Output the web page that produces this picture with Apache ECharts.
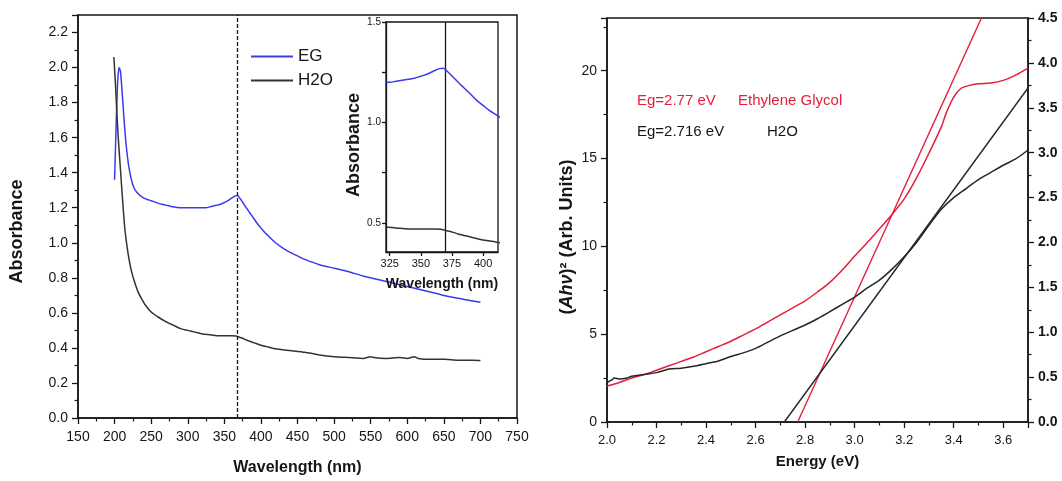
<!DOCTYPE html>
<html>
<head>
<meta charset="utf-8">
<script src="https://cdn.jsdelivr.net/npm/echarts@6/dist/echarts.min.js"></script>
<style>
  html, body { margin: 0; padding: 0; background: #fff; }
  #chart { width: 1062px; height: 481px; }
</style>
</head>
<body>
<div id="chart"></div>
<script>
// UV-vis absorbance (left panel + inset)
const egWavelength = [200, 202, 204, 206, 208, 210, 213, 216, 220, 225, 230, 240, 250, 260, 270, 280, 290, 300, 310, 320, 325, 330, 335, 340, 345, 350, 355, 360, 365, 368, 372, 376, 380, 385, 390, 395, 400, 405, 410, 420, 430, 440, 450, 460, 480, 500, 520, 540, 560, 580, 600, 620, 640, 660, 680, 700];
const egAbsorbance = [1.36, 1.65, 1.9, 2.0, 1.98, 1.88, 1.7, 1.55, 1.42, 1.33, 1.29, 1.255, 1.24, 1.225, 1.215, 1.205, 1.2, 1.2, 1.2, 1.2, 1.2, 1.205, 1.21, 1.215, 1.22, 1.23, 1.24, 1.255, 1.268, 1.27, 1.25, 1.225, 1.2, 1.17, 1.14, 1.11, 1.085, 1.06, 1.04, 1.0, 0.97, 0.945, 0.925, 0.905, 0.875, 0.855, 0.835, 0.81, 0.79, 0.77, 0.75, 0.73, 0.71, 0.69, 0.675, 0.66];

const h2oWavelength = [199, 201, 203, 205, 208, 211, 214, 217, 220, 223, 227, 232, 237, 242, 250, 260, 270, 280, 290, 300, 310, 320, 330, 340, 350, 360, 366, 370, 375, 380, 390, 400, 410, 420, 440, 460, 480, 500, 520, 540, 550, 555, 570, 590, 600, 610, 615, 630, 650, 670, 690, 700];
const h2oAbsorbance = [2.06, 1.92, 1.75, 1.6, 1.42, 1.24, 1.08, 0.98, 0.9, 0.84, 0.78, 0.72, 0.68, 0.645, 0.605, 0.575, 0.55, 0.53, 0.51, 0.5, 0.49, 0.48, 0.475, 0.47, 0.47, 0.47, 0.468, 0.462, 0.455, 0.445, 0.43, 0.415, 0.405, 0.395, 0.385, 0.375, 0.36, 0.35, 0.345, 0.34, 0.35, 0.345, 0.34, 0.345, 0.34, 0.35, 0.34, 0.335, 0.335, 0.33, 0.33, 0.328];

const peakWavelength = 368;
const insetXTicks = [325, 350, 375, 400];
const insetYTicks = [0.5, 1.0, 1.5];

// Tauc plot (right panel): EG on left axis, H2O on right axis
const egEnergy = [2.0, 2.05, 2.1, 2.15, 2.2, 2.25, 2.3, 2.35, 2.4, 2.45, 2.5, 2.55, 2.6, 2.65, 2.7, 2.75, 2.8, 2.85, 2.9, 2.95, 3.0, 3.05, 3.1, 3.15, 3.2, 3.25, 3.3, 3.35, 3.37, 3.4, 3.43, 3.46, 3.5, 3.55, 3.6, 3.65, 3.7];
const egTauc = [2.05, 2.25, 2.5, 2.7, 2.95, 3.2, 3.45, 3.7, 4.0, 4.3, 4.6, 4.95, 5.3, 5.7, 6.1, 6.5, 6.9, 7.4, 7.95, 8.65, 9.45, 10.2, 11.0, 11.8, 12.7, 13.9, 15.3, 16.8, 17.6, 18.5, 19.0, 19.15, 19.25, 19.3, 19.45, 19.75, 20.15];

const h2oEnergy = [2.0, 2.02, 2.03, 2.05, 2.08, 2.1, 2.15, 2.2, 2.25, 2.3, 2.35, 2.4, 2.45, 2.5, 2.55, 2.6, 2.65, 2.7, 2.75, 2.8, 2.85, 2.9, 2.95, 3.0, 3.05, 3.1, 3.15, 3.2, 3.25, 3.3, 3.35, 3.4, 3.45, 3.5, 3.55, 3.6, 3.65, 3.7];
const h2oTauc = [0.44, 0.47, 0.49, 0.48, 0.49, 0.51, 0.53, 0.55, 0.59, 0.6, 0.62, 0.65, 0.68, 0.73, 0.77, 0.82, 0.89, 0.96, 1.02, 1.08, 1.15, 1.23, 1.31, 1.39, 1.49, 1.58, 1.7, 1.84, 2.0, 2.19, 2.37, 2.5, 2.6, 2.7, 2.78, 2.86, 2.93, 3.03];

// linear fits, [energy, value]
const egTangent = [[2.77, 0], [3.512, 23]];
const h2oTangent = [[2.716, 0], [3.7, 3.72]];

const pairs = (xs, ys) => xs.map((x, i) => [x, ys[i]]);

const FONT = '"Liberation Sans", Arial, sans-serif';
const INK = '#161616';
const BLUE = '#3a3aee';
const GREY = '#333333';
const RED = '#e41e3c';

const axisLine = { show: true, onZero: false, lineStyle: { color: INK, width: 1.5 } };
const tick = { show: true, inside: false, length: 6, lineStyle: { color: INK, width: 1.3 } };
const minor = { show: true, splitNumber: 2, length: 3.5, lineStyle: { color: INK, width: 1.2 } };

const chart = echarts.init(document.getElementById('chart'));

const option = {
  animation: false,
  textStyle: { fontFamily: FONT },
  grid: [
    { left: 78, top: 15, width: 439, height: 404, show: true, borderColor: INK, borderWidth: 1.5 },
    { left: 386, top: 22, width: 112, height: 230, show: true, borderColor: INK, borderWidth: 1.3, backgroundColor: '#fff', z: 3 },
    { left: 607, top: 18, width: 421, height: 404, show: true, borderColor: INK, borderWidth: 1.5 }
  ],
  legend: {
    data: ['EG', 'H2O'],
    orient: 'vertical',
    left: 246,
    top: 43,
    icon: 'rect',
    itemWidth: 42,
    itemHeight: 2,
    itemGap: 7,
    textStyle: { fontFamily: FONT, fontSize: 17, color: INK }
  },
  xAxis: [
    {
      gridIndex: 0, type: 'value', min: 150, max: 750, interval: 50,
      axisLine, axisTick: tick, minorTick: minor, splitLine: { show: false },
      axisLabel: { margin: 12, fontSize: 14, color: INK },
      name: 'Wavelength (nm)', nameLocation: 'middle', nameGap: 42,
      nameTextStyle: { fontSize: 16, fontWeight: 'bold', color: INK }
    },
    {
      gridIndex: 1, type: 'value', min: 322, max: 412, z: 5,
      axisLine: { ...axisLine, lineStyle: { color: INK, width: 1.3 } },
      axisTick: { ...tick, length: 4, customValues: insetXTicks },
      splitLine: { show: false },
      axisLabel: { margin: 6, fontSize: 11, color: INK, customValues: insetXTicks },
      name: 'Wavelength (nm)', nameLocation: 'middle', nameGap: 25,
      nameTextStyle: { fontSize: 14, fontWeight: 'bold', color: INK }
    },
    {
      gridIndex: 2, type: 'value', min: 2.0, max: 3.7, interval: 0.2,
      axisLine, axisTick: tick, minorTick: minor, splitLine: { show: false },
      axisLabel: { margin: 12, fontSize: 13, color: INK, showMaxLabel: false, formatter: v => v.toFixed(1) },
      name: 'Energy (eV)', nameLocation: 'middle', nameGap: 32,
      nameTextStyle: { fontSize: 15, fontWeight: 'bold', color: INK }
    }
  ],
  yAxis: [
    {
      gridIndex: 0, type: 'value', min: 0, max: 2.3, interval: 0.2,
      axisLine, axisTick: tick, minorTick: minor, splitLine: { show: false },
      axisLabel: { margin: 10, fontSize: 14, color: INK, showMaxLabel: false, formatter: v => v.toFixed(1) },
      name: 'Absorbance', nameLocation: 'middle', nameGap: 52,
      nameTextStyle: { fontSize: 18, fontWeight: 'bold', color: INK, padding: [0, 30, 0, 0] }
    },
    {
      gridIndex: 1, type: 'value', min: 0.355, max: 1.5, z: 5,
      axisLine: { ...axisLine, lineStyle: { color: INK, width: 1.3 } },
      axisTick: { ...tick, length: 4, customValues: [0.5, 0.75, 1.0, 1.25, 1.5] },
      splitLine: { show: false },
      axisLabel: { margin: 5, fontSize: 10, color: INK, customValues: insetYTicks, formatter: v => v.toFixed(1) },
      name: 'Absorbance', nameLocation: 'middle', nameGap: 19,
      nameTextStyle: { fontSize: 18, fontWeight: 'bold', color: INK, padding: [0, 16, 0, 0] }
    },
    {
      gridIndex: 2, type: 'value', min: 0, max: 23, interval: 5,
      axisLine, axisTick: tick, minorTick: minor, splitLine: { show: false },
      axisLabel: { margin: 10, fontSize: 14, color: INK, showMaxLabel: false },
      name: '({i|Ahν})² (Arb. Units)', nameLocation: 'middle', nameGap: 31,
      nameTextStyle: {
        fontSize: 18, fontWeight: 'bold', color: INK, padding: [0, 34, 0, 0],
        rich: { i: { fontSize: 18, fontWeight: 'bold', fontStyle: 'italic', color: INK } }
      }
    },
    {
      gridIndex: 2, type: 'value', position: 'right', min: 0, max: 4.5, interval: 0.5,
      axisLine, axisTick: tick, minorTick: minor, splitLine: { show: false },
      axisLabel: { margin: 10, fontSize: 14, fontWeight: 'bold', color: INK, formatter: v => v.toFixed(1) }
    }
  ],
  graphic: [
    { type: 'text', left: 637, top: 93, style: { text: 'Eg=2.77 eV', font: '15px ' + FONT, fill: RED } },
    { type: 'text', left: 738, top: 93, style: { text: 'Ethylene Glycol', font: '15px ' + FONT, fill: RED } },
    { type: 'text', left: 637, top: 124, style: { text: 'Eg=2.716 eV', font: '15px ' + FONT, fill: INK } },
    { type: 'text', left: 767, top: 124, style: { text: 'H2O', font: '15px ' + FONT, fill: INK } }
  ],
  series: [
    {
      name: 'EG', type: 'line', xAxisIndex: 0, yAxisIndex: 0, symbol: 'none', smooth: 0.2,
      data: pairs(egWavelength, egAbsorbance),
      lineStyle: { color: BLUE, width: 1.5 }, itemStyle: { color: BLUE },
      markLine: {
        silent: true, symbol: ['none', 'none'], label: { show: false },
        lineStyle: { color: INK, width: 1.3, type: [4, 2] },
        data: [{ xAxis: peakWavelength }]
      }
    },
    {
      name: 'H2O', type: 'line', xAxisIndex: 0, yAxisIndex: 0, symbol: 'none', smooth: 0.2,
      data: pairs(h2oWavelength, h2oAbsorbance),
      lineStyle: { color: GREY, width: 1.5 }, itemStyle: { color: GREY }
    },
    {
      name: 'EG', type: 'line', xAxisIndex: 1, yAxisIndex: 1, symbol: 'none', smooth: 0.3, z: 6,
      data: pairs(egWavelength, egAbsorbance),
      lineStyle: { color: BLUE, width: 1.5 }, itemStyle: { color: BLUE }
    },
    {
      name: 'H2O', type: 'line', xAxisIndex: 1, yAxisIndex: 1, symbol: 'none', smooth: 0.3, z: 6,
      data: pairs(h2oWavelength, h2oAbsorbance),
      lineStyle: { color: GREY, width: 1.5 }, itemStyle: { color: GREY },
      markLine: {
        silent: true, symbol: ['none', 'none'], label: { show: false },
        lineStyle: { color: INK, width: 1.3, type: 'solid' },
        data: [{ xAxis: peakWavelength + 2 }]
      }
    },
    {
      name: 'Ethylene Glycol', type: 'line', xAxisIndex: 2, yAxisIndex: 2, symbol: 'none', smooth: 0.3,
      data: pairs(egEnergy, egTauc),
      lineStyle: { color: RED, width: 1.5 }
    },
    {
      name: 'EG fit', type: 'line', xAxisIndex: 2, yAxisIndex: 2, symbol: 'none',
      data: egTangent, lineStyle: { color: RED, width: 1.4 }
    },
    {
      name: 'H2O Tauc', type: 'line', xAxisIndex: 2, yAxisIndex: 3, symbol: 'none', smooth: 0.3,
      data: pairs(h2oEnergy, h2oTauc),
      lineStyle: { color: '#262626', width: 1.5 }
    },
    {
      name: 'H2O fit', type: 'line', xAxisIndex: 2, yAxisIndex: 3, symbol: 'none',
      data: h2oTangent, lineStyle: { color: '#262626', width: 1.4 }
    }
  ]
};

chart.setOption(option);
</script>
</body>
</html>
